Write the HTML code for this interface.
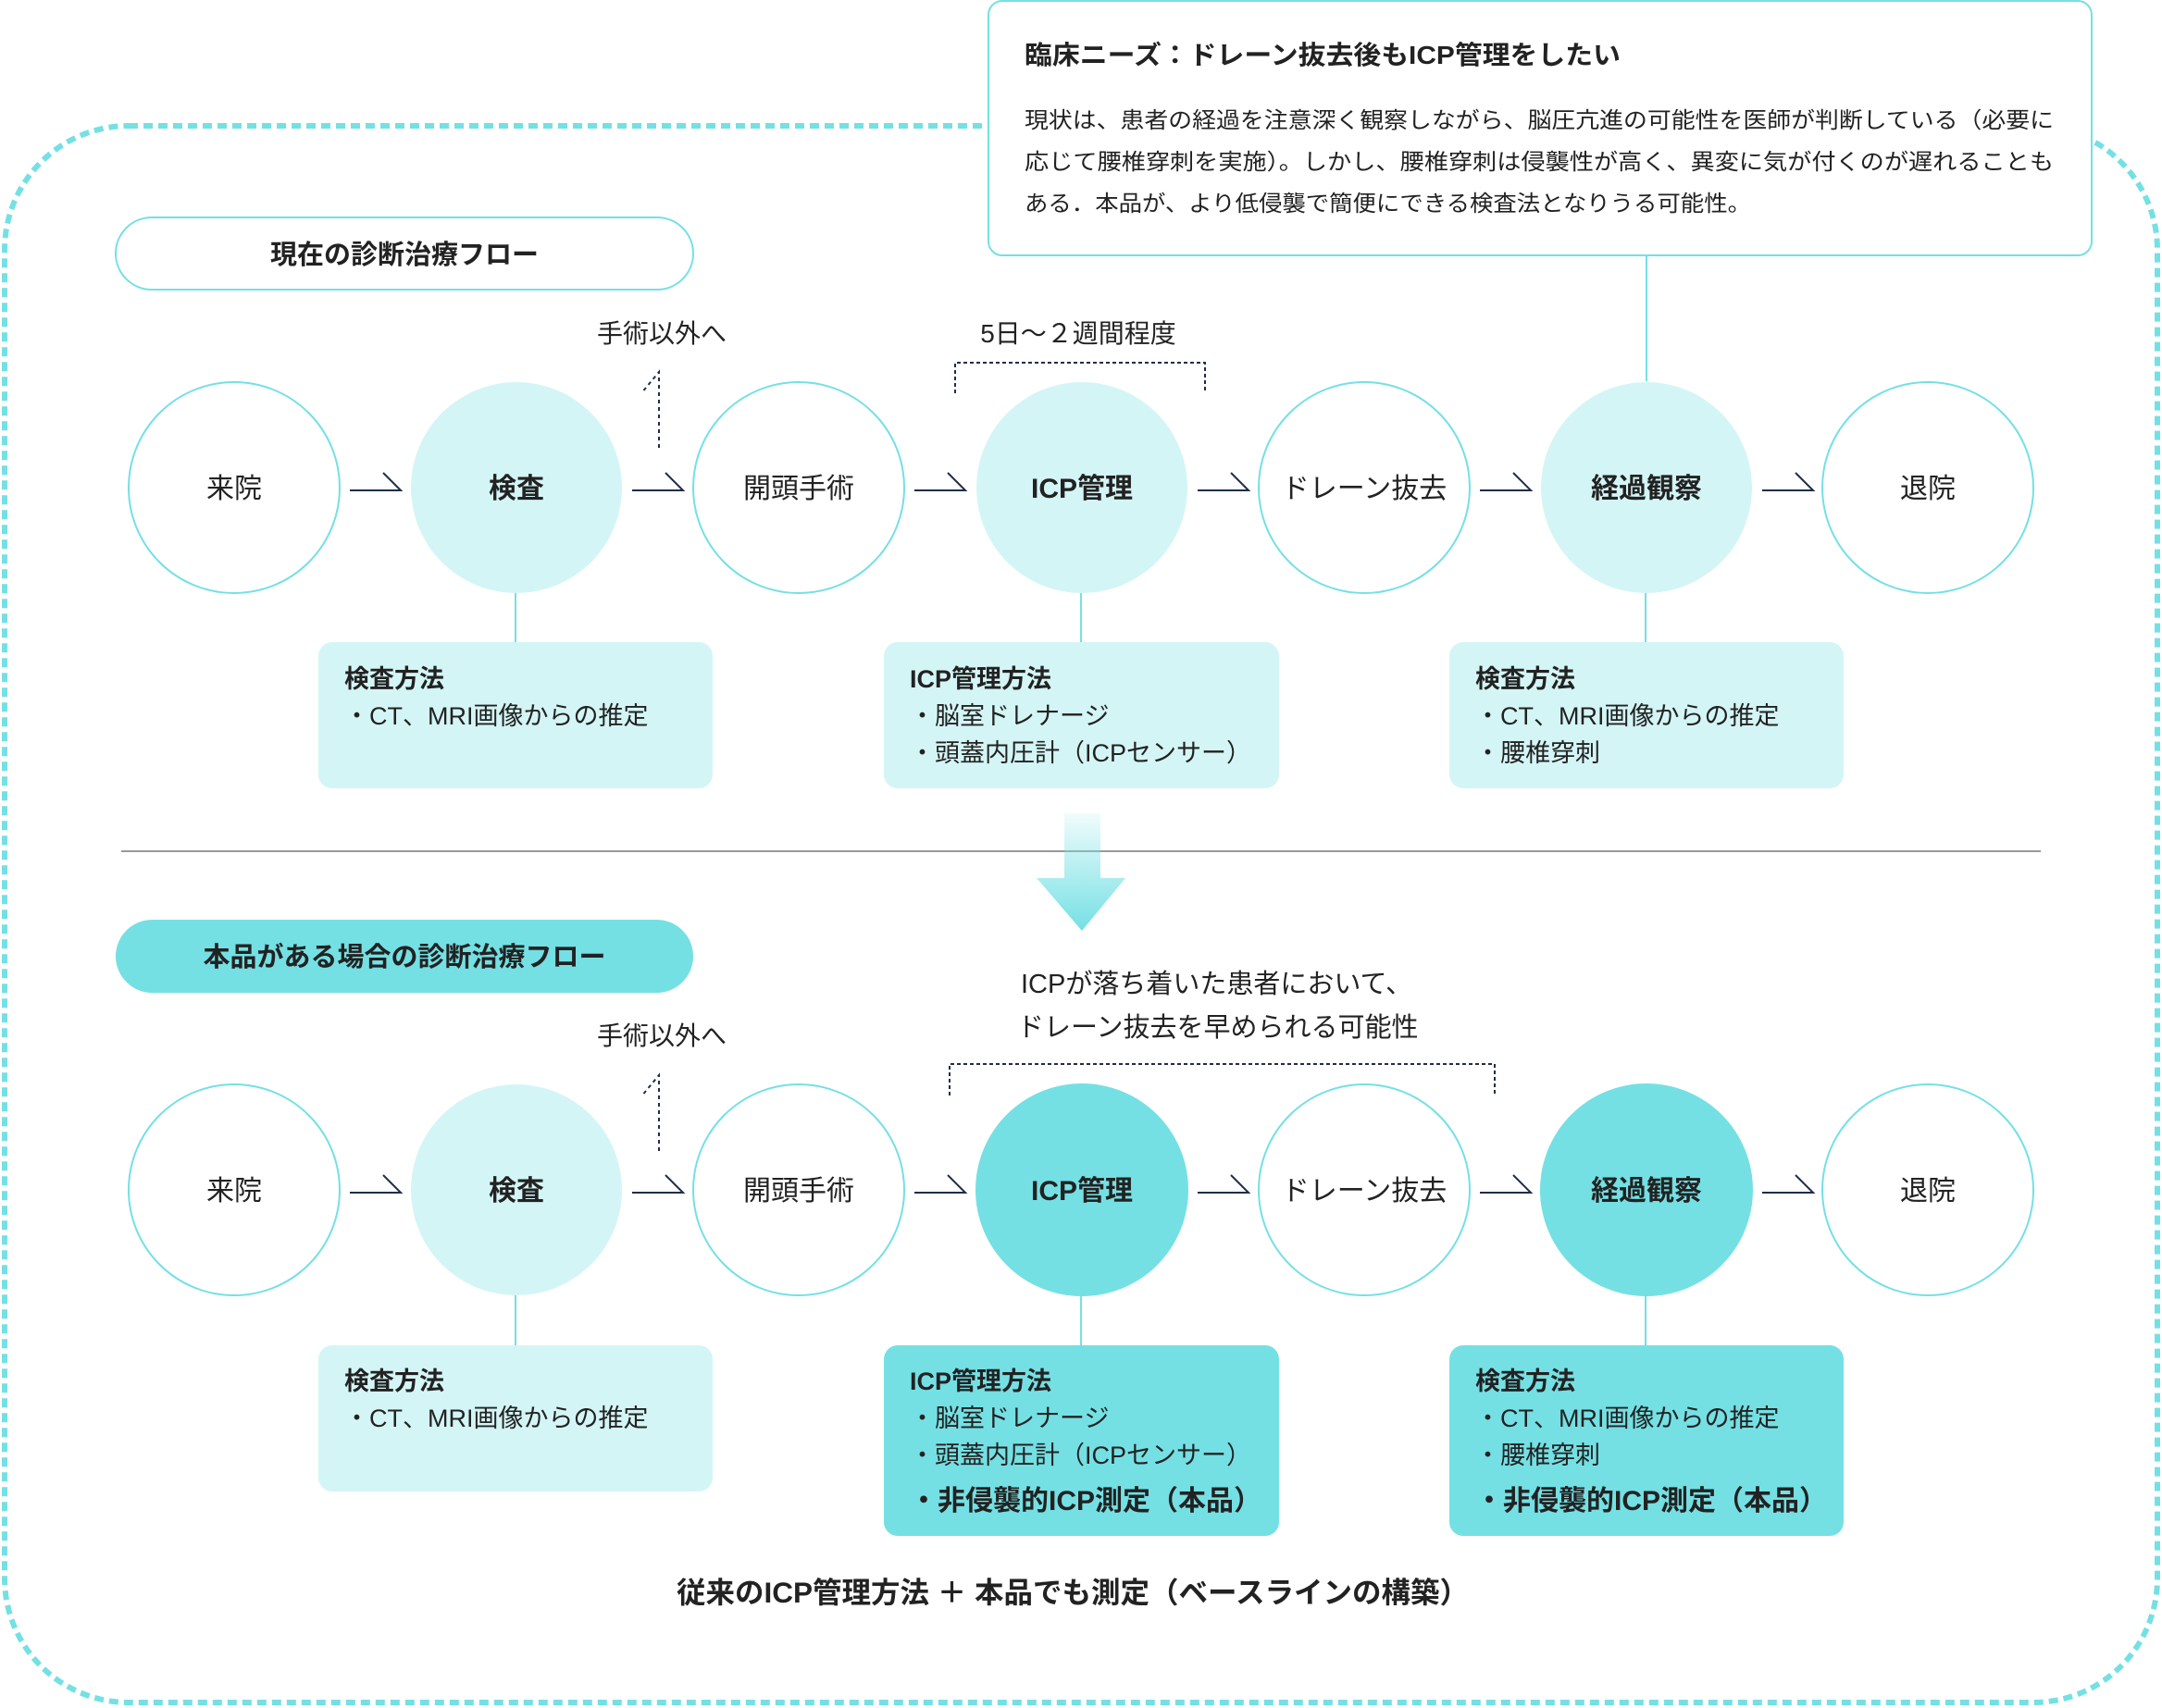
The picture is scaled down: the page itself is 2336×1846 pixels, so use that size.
<!DOCTYPE html>
<html><head><meta charset="utf-8"><style>
html,body{margin:0;padding:0;background:#fff}
svg{display:block}
text{font-family:"Liberation Sans","Noto Sans CJK JP",sans-serif;fill:#222}
.b{font-weight:bold}
</style></head><body>
<svg width="2336" height="1846" viewBox="0 0 2336 1846" xmlns="http://www.w3.org/2000/svg">
<defs>
<linearGradient id="g" x1="0" y1="0" x2="0" y2="1">
<stop offset="0" stop-color="#74e0e4" stop-opacity="0.1"/>
<stop offset="1" stop-color="#74e0e4"/>
</linearGradient>
</defs>
<rect x="5" y="136" width="2326" height="1704" rx="134" ry="134" fill="none" stroke="#74e0e4" stroke-width="6" stroke-dasharray="10 6"/>

<rect x="1068" y="1" width="1192" height="275" rx="15" fill="#fff" stroke="#74e0e4" stroke-width="2"/>
<text x="1107" y="69" class="b" font-size="28" textLength="644" lengthAdjust="spacingAndGlyphs">臨床ニーズ：ドレーン抜去後もICP管理をしたい</text>
<text x="1107" y="138" font-size="24" textLength="1112" lengthAdjust="spacingAndGlyphs">現状は、患者の経過を注意深く観察しながら、脳圧亢進の可能性を医師が判断している（必要に</text>
<text x="1107" y="183" font-size="24" textLength="1112" lengthAdjust="spacingAndGlyphs">応じて腰椎穿刺を実施）。しかし、腰椎穿刺は侵襲性が高く、異変に気が付くのが遅れることも</text>
<text x="1107" y="228" font-size="24" textLength="785" lengthAdjust="spacingAndGlyphs">ある．本品が、より低侵襲で簡便にできる検査法となりうる可能性。</text>
<line x1="1779" y1="276" x2="1779" y2="412" stroke="#74e0e4" stroke-width="2"/>

<rect x="125" y="235" width="624" height="78" rx="39" fill="#fff" stroke="#74e0e4" stroke-width="2"/>
<text x="437" y="285" class="b" font-size="29" text-anchor="middle">現在の診断治療フロー</text>

<text x="715" y="370" font-size="28" text-anchor="middle">手術以外へ</text>
<path d="M712 484 V402 L693 425" fill="none" stroke="#1f2d4a" stroke-width="2" stroke-dasharray="4 4"/>
<text x="1165" y="370" font-size="28" text-anchor="middle">5日～２週間程度</text>
<path d="M1032 425 V392 H1302 V425" fill="none" stroke="#1f2d4a" stroke-width="2" stroke-dasharray="4 3"/>

<g stroke="#74e0e4" stroke-width="2">
<circle cx="253" cy="527" r="114" fill="#fff"/>
<circle cx="558" cy="527" r="114" fill="#d4f5f6" stroke="none"/>
<circle cx="863" cy="527" r="114" fill="#fff"/>
<circle cx="1169" cy="527" r="114" fill="#d4f5f6" stroke="none"/>
<circle cx="1474" cy="527" r="114" fill="#fff"/>
<circle cx="1779" cy="527" r="114" fill="#d4f5f6" stroke="none"/>
<circle cx="2083" cy="527" r="114" fill="#fff"/>
</g>
<g font-size="30" text-anchor="middle">
<text x="253" y="538">来院</text>
<text x="558" y="538" class="b">検査</text>
<text x="863" y="538">開頭手術</text>
<text x="1169" y="538" class="b">ICP管理</text>
<text x="1474" y="538">ドレーン抜去</text>
<text x="1779" y="538" class="b">経過観察</text>
<text x="2083" y="538">退院</text>
</g>
<g fill="none" stroke="#1f2d4a" stroke-width="2">
<path d="M378 530 H433 L414 511"/>
<path d="M683 530 H738 L719 511"/>
<path d="M988 530 H1043 L1024 511"/>
<path d="M1294 530 H1349 L1330 511"/>
<path d="M1599 530 H1654 L1635 511"/>
<path d="M1904 530 H1959 L1940 511"/>
</g>
<g stroke="#74e0e4" stroke-width="2">
<line x1="557" y1="641" x2="557" y2="694"/>
<line x1="1168" y1="641" x2="1168" y2="694"/>
<line x1="1778" y1="641" x2="1778" y2="694"/>
</g>
<rect x="344" y="694" width="426" height="158" rx="15" fill="#d4f5f6"/>
<rect x="955" y="694" width="427" height="158" rx="15" fill="#d4f5f6"/>
<rect x="1566" y="694" width="426" height="158" rx="15" fill="#d4f5f6"/>
<g font-size="27">
<text x="372" y="743" class="b">検査方法</text>
<text x="372" y="783">・CT、MRI画像からの推定</text>
<text x="983" y="743" class="b">ICP管理方法</text>
<text x="983" y="783">・脳室ドレナージ</text>
<text x="983" y="823">・頭蓋内圧計（ICPセンサー）</text>
<text x="1594" y="743" class="b">検査方法</text>
<text x="1594" y="783">・CT、MRI画像からの推定</text>
<text x="1594" y="823">・腰椎穿刺</text>
</g>

<line x1="131" y1="920" x2="2205" y2="920" stroke="#999" stroke-width="2"/>
<path d="M1150 879 H1189 V949 H1216 L1169 1006 L1120 949 H1150 Z" fill="url(#g)"/>

<rect x="125" y="994" width="624" height="79" rx="39.5" fill="#74e0e4"/>
<text x="437" y="1044" class="b" font-size="29" text-anchor="middle">本品がある場合の診断治療フロー</text>

<text x="1103" y="1073" font-size="29">ICPが落ち着いた患者において、</text>
<text x="1099" y="1120" font-size="29">ドレーン抜去を早められる可能性</text>
<path d="M1026 1184 V1150 H1615 V1184" fill="none" stroke="#1f2d4a" stroke-width="2" stroke-dasharray="4 3"/>
<text x="715" y="1129" font-size="28" text-anchor="middle">手術以外へ</text>
<path d="M712 1244 V1162 L693 1185" fill="none" stroke="#1f2d4a" stroke-width="2" stroke-dasharray="4 4"/>

<g stroke="#74e0e4" stroke-width="2">
<circle cx="253" cy="1286" r="114" fill="#fff"/>
<circle cx="558" cy="1286" r="114" fill="#d4f5f6" stroke="none"/>
<circle cx="863" cy="1286" r="114" fill="#fff"/>
<circle cx="1169" cy="1286" r="115" fill="#74e0e4" stroke="none"/>
<circle cx="1474" cy="1286" r="114" fill="#fff"/>
<circle cx="1779" cy="1286" r="115" fill="#74e0e4" stroke="none"/>
<circle cx="2083" cy="1286" r="114" fill="#fff"/>
</g>
<g font-size="30" text-anchor="middle">
<text x="253" y="1297">来院</text>
<text x="558" y="1297" class="b">検査</text>
<text x="863" y="1297">開頭手術</text>
<text x="1169" y="1297" class="b">ICP管理</text>
<text x="1474" y="1297">ドレーン抜去</text>
<text x="1779" y="1297" class="b">経過観察</text>
<text x="2083" y="1297">退院</text>
</g>
<g fill="none" stroke="#1f2d4a" stroke-width="2">
<path d="M378 1289 H433 L414 1270"/>
<path d="M683 1289 H738 L719 1270"/>
<path d="M988 1289 H1043 L1024 1270"/>
<path d="M1294 1289 H1349 L1330 1270"/>
<path d="M1599 1289 H1654 L1635 1270"/>
<path d="M1904 1289 H1959 L1940 1270"/>
</g>
<g stroke="#74e0e4" stroke-width="2">
<line x1="557" y1="1400" x2="557" y2="1454"/>
<line x1="1168" y1="1400" x2="1168" y2="1454"/>
<line x1="1778" y1="1400" x2="1778" y2="1454"/>
</g>
<rect x="344" y="1454" width="426" height="158" rx="15" fill="#d4f5f6"/>
<rect x="955" y="1454" width="427" height="206" rx="15" fill="#74e0e4"/>
<rect x="1566" y="1454" width="426" height="206" rx="15" fill="#74e0e4"/>
<g font-size="27">
<text x="372" y="1502" class="b">検査方法</text>
<text x="372" y="1542">・CT、MRI画像からの推定</text>
<text x="983" y="1502" class="b">ICP管理方法</text>
<text x="983" y="1542">・脳室ドレナージ</text>
<text x="983" y="1582">・頭蓋内圧計（ICPセンサー）</text>
<text x="983" y="1632" class="b" font-size="30">・非侵襲的ICP測定（本品）</text>
<text x="1594" y="1502" class="b">検査方法</text>
<text x="1594" y="1542">・CT、MRI画像からの推定</text>
<text x="1594" y="1582">・腰椎穿刺</text>
<text x="1594" y="1632" class="b" font-size="30">・非侵襲的ICP測定（本品）</text>
</g>
<text x="1159" y="1732" class="b" font-size="31.5" text-anchor="middle">従来のICP管理方法 ＋ 本品でも測定（ベースラインの構築）</text>
</svg>
</body></html>
